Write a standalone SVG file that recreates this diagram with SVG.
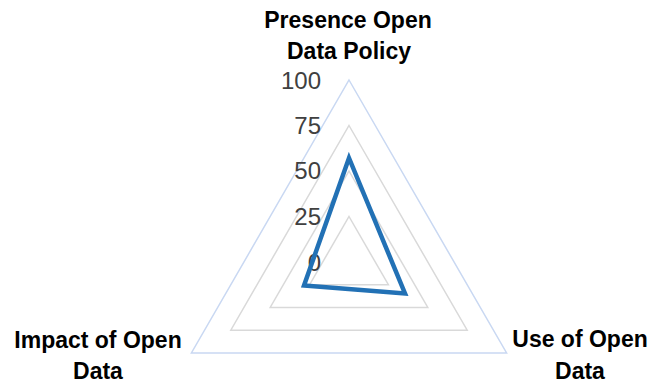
<svg xmlns="http://www.w3.org/2000/svg" width="651" height="387" viewBox="0 0 651 387">
<style>
.grid{fill:none;stroke:#D9D9D9;stroke-width:1.5}
.outer{fill:none;stroke:#C9D8F2;stroke-width:1.5}
.tick{font-family:"Liberation Sans",Arial,sans-serif;font-size:24px;fill:#404040;text-anchor:end}
.lbl{font-family:"Liberation Sans",Arial,sans-serif;font-size:23px;font-weight:bold;fill:#000;text-anchor:middle}
.series{fill:none;stroke:#2271B5;stroke-width:4.5;stroke-linejoin:miter}
</style>
<rect width="651" height="387" fill="#fff"/>
<g id="grid">
<polygon class="outer" points="349,80 506.6,353 191.4,353"/>
<polygon class="grid" points="349,125.5 467.2,330.25 230.8,330.25"/>
<polygon class="grid" points="349,171 427.8,307.5 270.2,307.5"/>
<polygon class="grid" points="349,216.5 388.4,284.75 309.6,284.75"/>
</g>
<g id="ticks">
<text class="tick" x="321" y="89">100</text>
<text class="tick" x="321" y="134">75</text>
<text class="tick" x="321" y="179">50</text>
<text class="tick" x="321" y="225">25</text>
<text class="tick" x="321" y="271">0</text>
</g>
<g id="connectors">
<polygon class="series" points="349,158 405,293.5 304,285.5"/>
</g>
<g id="node-presence">
<text class="lbl" x="348" y="28">Presence Open</text>
<text class="lbl" x="349" y="59">Data Policy</text>
</g>
<g id="node-impact">
<text class="lbl" x="98" y="348">Impact of Open</text>
<text class="lbl" x="98" y="379">Data</text>
</g>
<g id="node-use">
<text class="lbl" x="580" y="347">Use of Open</text>
<text class="lbl" x="580" y="379">Data</text>
</g>
</svg>
